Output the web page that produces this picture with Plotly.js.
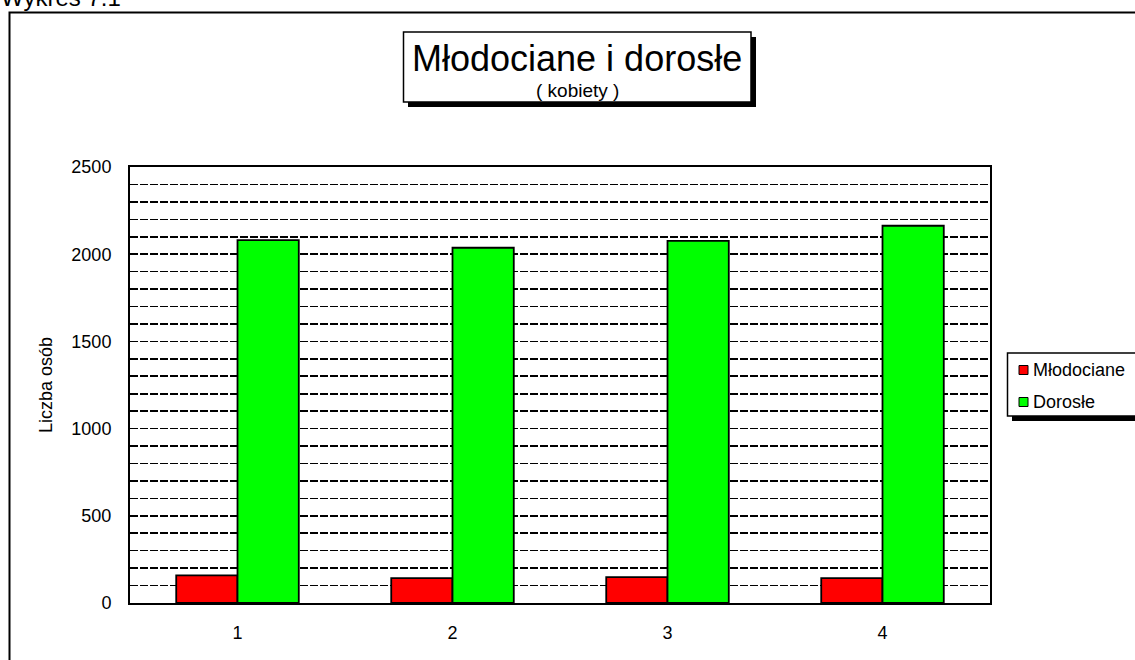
<!DOCTYPE html>
<html>
<head>
<meta charset="utf-8">
<script src="https://cdn.plot.ly/plotly-3.0.1.min.js"></script>
<style>html,body{margin:0;padding:0;background:#fff;}#chart{width:1135px;height:660px;}</style>
</head>
<body>
<div id="chart"></div>
<script>
var categories = ["1", "2", "3", "4"];
var seriesNames = ["Młodociane", "Dorosłe"];
var seriesColors = ["#ff0000", "#00ff00"];
var mlodociane = [158, 143, 148, 143];
var dorosle = [2081, 2037, 2076, 2163];
var yTickVals = [0, 500, 1000, 1500, 2000, 2500];
var yTickText = ["0", "500", "1000", "1500", "2000", "2500"];

var W = 1135, H = 660, L = 130, R = 990, T = 167, B = 603;
function px(x) { return (x - L) / (R - L); }
function py(y) { return (B - y) / (B - T); }
var FONT = "Liberation Sans, Arial, sans-serif";

var traces = [
  {type: "bar", name: seriesNames[0], x: categories, y: mlodociane,
   marker: {color: seriesColors[0], line: {color: "#000", width: 1.8}}},
  {type: "bar", name: seriesNames[1], x: categories, y: dorosle,
   marker: {color: seriesColors[1], line: {color: "#000", width: 1.8}}}
];

var shapes = [
  {type: "rect", xref: "paper", yref: "paper", x0: px(9.5), x1: px(1140), y0: py(12.5), y1: py(670),
   line: {color: "#000", width: 2}, fillcolor: "rgba(0,0,0,0)", layer: "below"},
  {type: "rect", xref: "paper", yref: "paper", x0: px(408), x1: px(756), y0: py(37), y1: py(107),
   line: {width: 0}, fillcolor: "#000", layer: "below"},
  {type: "rect", xref: "paper", yref: "paper", x0: px(403.5), x1: px(751), y0: py(32), y1: py(102),
   line: {color: "#000", width: 1.5}, fillcolor: "#fff", layer: "below"},
  {type: "rect", xref: "paper", yref: "paper", x0: px(1012), x1: px(1145), y0: py(357), y1: py(421),
   line: {width: 0}, fillcolor: "#000", layer: "below"},
  {type: "rect", xref: "paper", yref: "paper", x0: px(1007.5), x1: px(1140), y0: py(353), y1: py(416),
   line: {color: "#000", width: 1.5}, fillcolor: "#fff", layer: "below"}
];
var annotations = [
  {text: "Wykres 7.1", xref: "paper", yref: "paper", x: px(-1), y: py(13), xanchor: "left", yanchor: "bottom",
   showarrow: false, font: {family: FONT, size: 24}},
  {text: "Młodociane i dorosłe", xref: "paper", yref: "paper", x: px(577), y: py(58), xanchor: "center", yanchor: "middle",
   showarrow: false, font: {family: FONT, size: 36}},
  {text: "( kobiety )", xref: "paper", yref: "paper", x: px(577), y: py(90), xanchor: "center", yanchor: "middle",
   showarrow: false, font: {family: FONT, size: 19}},
  {text: "Liczba osób", xref: "paper", yref: "paper", x: px(46), y: py(385), xanchor: "center", yanchor: "middle",
   textangle: -90, showarrow: false, font: {family: FONT, size: 18}}
];
// legend drawn by hand
var legendY = [370, 402];
for (var i = 0; i < seriesNames.length; i++) {
  shapes.push({type: "rect", xref: "paper", yref: "paper", x0: px(1019), x1: px(1028),
               y0: py(legendY[i] + 4.5), y1: py(legendY[i] - 4.5),
               line: {color: "#000", width: 1}, fillcolor: seriesColors[i], layer: "above"});
  annotations.push({text: seriesNames[i], xref: "paper", yref: "paper", x: px(1031), y: py(legendY[i]),
                    xanchor: "left", yanchor: "middle", showarrow: false, font: {family: FONT, size: 18}});
}

var layout = {
  width: W, height: H,
  margin: {l: L, r: W - R, t: T, b: H - B, pad: 0},
  paper_bgcolor: "#fff", plot_bgcolor: "rgba(0,0,0,0)",
  font: {family: FONT, size: 18, color: "#000"},
  barmode: "group", bargap: 0.43, bargroupgap: 0,
  showlegend: false,
  xaxis: {type: "category", showline: true, mirror: true, linecolor: "#000", linewidth: 2,
          ticks: "", showgrid: false, zeroline: false, ticklabelstandoff: 12,
          tickfont: {family: FONT, size: 18}},
  yaxis: {range: [0, 2500], showline: true, mirror: true, linecolor: "#000", linewidth: 2,
          tickmode: "array", tickvals: yTickVals, ticktext: yTickText, ticks: "",
          showgrid: true, gridcolor: "#000", gridwidth: 1.6, griddash: "8px,2px",
          zeroline: false, ticklabelstandoff: 13, tickfont: {family: FONT, size: 18},
          minor: {dtick: 100, showgrid: true, gridcolor: "#000", gridwidth: 1.6, griddash: "8px,2px"}},
  shapes: shapes,
  annotations: annotations
};

Plotly.newPlot("chart", traces, layout, {displayModeBar: false, staticPlot: true});
</script>
</body>
</html>
